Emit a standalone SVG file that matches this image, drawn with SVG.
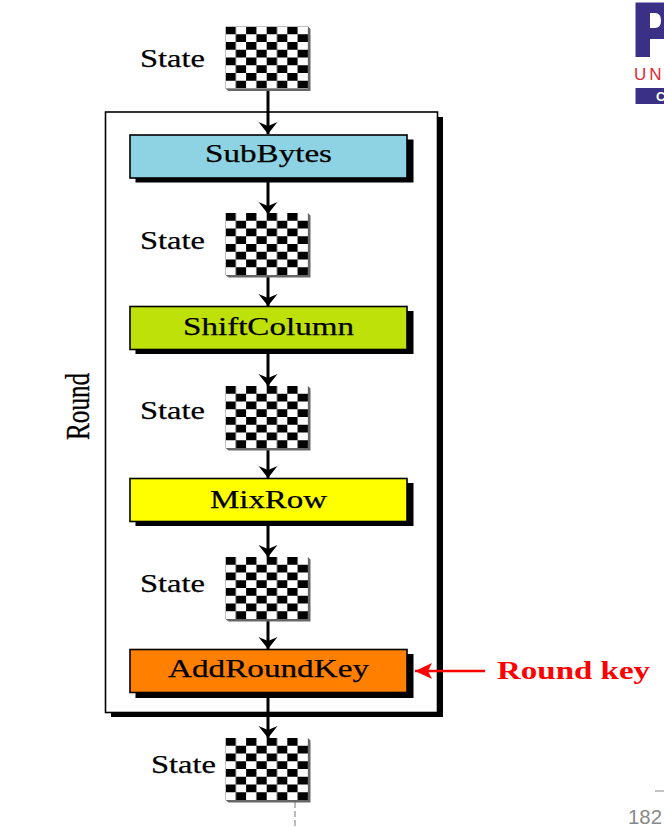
<svg xmlns="http://www.w3.org/2000/svg" width="664" height="827" viewBox="0 0 664 827">
<style>
text{font-family:"Liberation Serif","Times New Roman",serif;fill:#000}
.lbl{font-size:26px;stroke:#000;stroke-width:.25}
.box{stroke:#000;stroke-width:1.6}
.sh{fill:#000}
.wire{stroke:#000;stroke-width:3;fill:none}
</style>
<defs>
<pattern id="chk" x="0" y="0" width="20.6" height="15.5" patternUnits="userSpaceOnUse">
<rect width="20.6" height="15.5" fill="#fff"/>
<rect width="10.3" height="7.75" fill="#000"/>
<rect x="10.3" y="7.75" width="10.3" height="7.75" fill="#000"/>
</pattern>
<g id="grid">
<path d="M82.500 0L85 2.500V64.500H3L0 62H82.500Z" fill="#666"/>
<rect width="82.500" height="62" fill="url(#chk)"/>
</g>
<marker id="ah" markerUnits="userSpaceOnUse" markerWidth="13" markerHeight="20" refX="12" refY="9.500" orient="auto">
<path d="M0 0L12 9.500L0 19L4 9.500Z" fill="#000"/>
</marker>
<marker id="ahr" markerUnits="userSpaceOnUse" markerWidth="18" markerHeight="16" refX="17" refY="8" orient="auto">
<path d="M0 0L17 8L0 16L4 8Z" fill="#f00"/>
</marker>
</defs>
<g id="round">
<rect x="111" y="117" width="332" height="600" class="sh"/>
<rect x="105.500" y="112" width="332" height="600.500" fill="#fff" stroke="#000" stroke-width="1.600"/>
<text class="lbl" transform="translate(89 440) rotate(-90) scale(.97 1.260)">Round</text>
</g>
<g id="connectors">
<path class="wire" d="M268 89V134" marker-end="url(#ah)"/>
<path class="wire" d="M268 180V214" marker-end="url(#ah)"/>
<path class="wire" d="M268 277V306" marker-end="url(#ah)"/>
<path class="wire" d="M268 352V386" marker-end="url(#ah)"/>
<path class="wire" d="M268 449V478" marker-end="url(#ah)"/>
<path class="wire" d="M268 525V557" marker-end="url(#ah)"/>
<path class="wire" d="M268 620V649" marker-end="url(#ah)"/>
<path class="wire" d="M268 696V738" marker-end="url(#ah)"/>
<path d="M485 671H415" stroke="#f00" stroke-width="2.500" fill="none" marker-end="url(#ahr)"/>
<path d="M295 802V827" stroke="#777" stroke-width="1" stroke-dasharray="6 3" fill="none"/>
</g>
<g id="state-0">
<use href="#grid" x="225.500" y="26.500"/>
<text class="lbl" x="140" y="67" textLength="65" lengthAdjust="spacingAndGlyphs">State</text>
</g>
<g id="subbytes">
<rect x="135.500" y="139.500" width="278" height="43" class="sh"/>
<rect x="130" y="135" width="277" height="43" fill="#8dd3e4" class="box"/>
<text class="lbl" x="205" y="162" textLength="127" lengthAdjust="spacingAndGlyphs">SubBytes</text>
</g>
<g id="state-1">
<use href="#grid" x="225.500" y="213"/>
<text class="lbl" x="140" y="249" textLength="65" lengthAdjust="spacingAndGlyphs">State</text>
</g>
<g id="shiftcolumn">
<rect x="135.500" y="311" width="278" height="43" class="sh"/>
<rect x="130" y="306.500" width="277" height="43" fill="#bfe10a" class="box"/>
<text class="lbl" x="183" y="335" textLength="171" lengthAdjust="spacingAndGlyphs">ShiftColumn</text>
</g>
<g id="state-2">
<use href="#grid" x="225.500" y="386"/>
<text class="lbl" x="140" y="419" textLength="65" lengthAdjust="spacingAndGlyphs">State</text>
</g>
<g id="mixrow">
<rect x="135.500" y="483" width="278" height="43" class="sh"/>
<rect x="130" y="478.500" width="277" height="43" fill="#ffff00" class="box"/>
<text class="lbl" x="210" y="508" textLength="117" lengthAdjust="spacingAndGlyphs">MixRow</text>
</g>
<g id="state-3">
<use href="#grid" x="225.500" y="557"/>
<text class="lbl" x="140" y="592" textLength="65" lengthAdjust="spacingAndGlyphs">State</text>
</g>
<g id="addroundkey">
<rect x="135.500" y="654" width="278" height="44" class="sh"/>
<rect x="130" y="649.500" width="277" height="43" fill="#ff7f00" class="box"/>
<text class="lbl" x="168" y="677" textLength="201" lengthAdjust="spacingAndGlyphs">AddRoundKey</text>
</g>
<g id="state-4">
<use href="#grid" x="225.500" y="738"/>
<text class="lbl" x="151" y="773" textLength="65" lengthAdjust="spacingAndGlyphs">State</text>
</g>
<g id="roundkey-label">
<text x="497" y="679" font-size="26" font-weight="700" textLength="153" lengthAdjust="spacingAndGlyphs" style="fill:#f00">Round key</text>
</g>
<g id="logo">
<path d="M635.500 2.500H664V39H650V57H635.500ZM650 13V28H655Q661 28 661 20.500Q661 13 655 13Z" fill-rule="evenodd" fill="#3a3187"/>
<text x="634" y="80" font-size="17" letter-spacing="3" style="font-family:'Liberation Sans',sans-serif;fill:#e32636">UN</text>
<rect x="635.500" y="88" width="28.500" height="16" fill="#3a3187"/>
<text x="656" y="101" font-size="13" font-weight="700" style="font-family:'Liberation Sans',sans-serif;fill:#fff">C</text>
</g>
<g id="page">
<path d="M655 791H664" stroke="#888" stroke-width="1"/>
<text x="628" y="824" font-size="20" textLength="34" lengthAdjust="spacingAndGlyphs" style="font-family:'Liberation Sans',sans-serif;fill:#888">182</text>
</g>
</svg>
